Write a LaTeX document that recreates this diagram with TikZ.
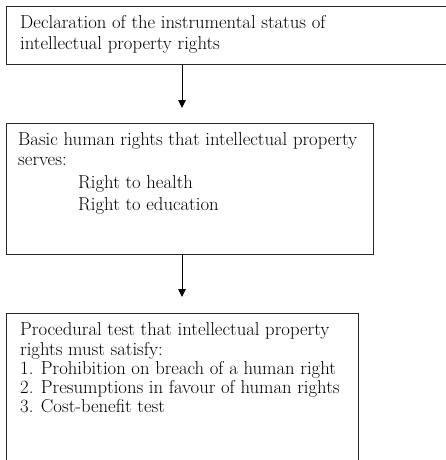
\documentclass[tikz,border=0pt]{standalone}
\usetikzlibrary{arrows.meta}
\begin{document}
\begin{tikzpicture}[x=1pt,y=-1pt,
  box/.style={draw=black!85, line width=0.9pt, anchor=north west, inner sep=0pt},
  txt/.style={anchor=base west, inner sep=0pt, font=\fontsize{18.7}{21}\selectfont},
  arr/.style={draw=black, line width=0.9pt, -{Triangle[length=8pt,width=7.5pt]}}]
\useasboundingbox (0,0) rectangle (446,460);
\clip (0,0) rectangle (446,460);
% boxes
\node[box, minimum width=460pt, minimum height=58pt] (b1) at (6,6) {};
\node[box, minimum width=367pt, minimum height=131pt] (b2) at (6,123) {};
\node[box, minimum width=352pt, minimum height=180pt] (b3) at (6,313) {};
% texts box 1
\node[txt] (t11) at (20,29) {Declaration of the instrumental status of};
\node[txt] (t12) at (20,50) {intellectual property rights};
% texts box 2
\node[txt] (t21) at (18,145) {Basic human rights that intellectual property};
\node[txt] (t22) at (18,165) {serves:};
\node[txt] (t23) at (78,188) {Right to health};
\node[txt] (t24) at (78,210) {Right to education};
% texts box 3
\node[txt] (t31) at (20,335) {Procedural test that intellectual property};
\node[txt] (t32) at (20,355) {rights must satisfy:};
\node[txt] (t33) at (20,374) {1. Prohibition on breach of a human right};
\node[txt] (t34) at (20,393) {2. Presumptions in favour of human rights};
\node[txt] (t35) at (20,412) {3. Cost-benefit test};
% arrows
\coordinate (c1) at (182,108);
\coordinate (c2) at (182,297);
\draw[arr] (b1.south -| c1) -- (c1);
\draw[arr] (b2.south -| c2) -- (c2);
\end{tikzpicture}
\end{document}
